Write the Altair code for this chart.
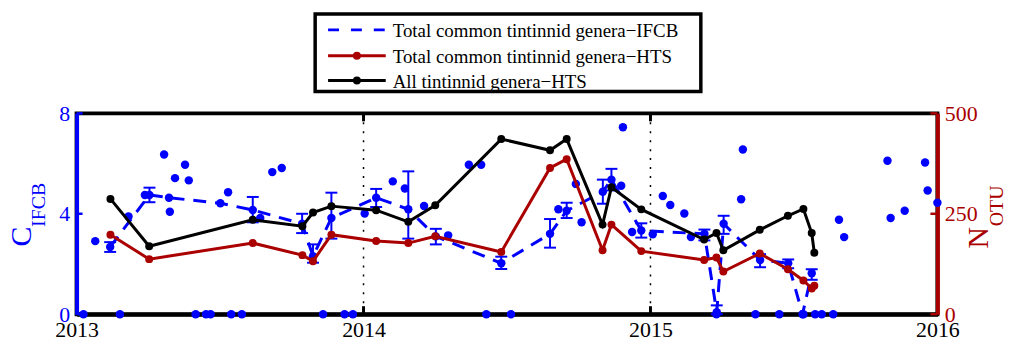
import altair as alt
import pandas as pd

W, H = 866, 202
BLUE = "#0000FF"
RED = "#AA0000"
FONT = "Liberation Serif"

# ---------------- data ----------------
# IFCB individual samples (decimal year, C_IFCB)
sample_year = [2013.024, 2013.065, 2013.151, 2013.181, 2013.238, 2013.305, 2013.325, 2013.343,
               2013.378, 2013.391, 2013.415, 2013.451, 2013.467, 2013.528, 2013.539, 2013.576,
               2013.640, 2013.682, 2013.715, 2013.859, 2013.934, 2013.963, 2014.004, 2014.102,
               2014.144, 2014.211, 2014.295, 2014.367, 2014.410, 2014.428, 2014.514, 2014.679,
               2014.740, 2014.760, 2014.898, 2014.904, 2014.936, 2015.008, 2015.043, 2015.069,
               2015.118, 2015.141, 2015.230, 2015.316, 2015.322, 2015.366, 2015.449, 2015.533,
               2015.574, 2015.597, 2015.637, 2015.657, 2015.675, 2015.826, 2015.837, 2015.886,
               2015.957, 2015.966, 2016.0]
sample_c = [0, 2.91, 0, 3.89, 4.75, 6.36, 4.08, 5.42,
            5.95, 5.33, 0, 0, 0, 4.86, 0, 0,
            3.83, 5.66, 5.82, 0, 0, 0, 4.01, 5.29,
            5.01, 4.31, 3.14, 5.95, 5.95, 0, 0, 4.18,
            5.19, 3.66, 5.12, 7.45, 3.27, 3.18, 4.71, 4.35,
            4.01, 3.07, 0, 4.58, 6.56, 0, 0, 0,
            0, 0, 0, 3.76, 3.07, 6.11, 3.83, 4.12,
            6.04, 4.93, 4.44]

# IFCB means (total common tintinnid genera) with error ranges
mean_year = [2013.117, 2013.254, 2013.322, 2013.501, 2013.614, 2013.786, 2013.824, 2013.888,
             2014.044, 2014.156, 2014.252, 2014.480, 2014.650, 2014.708, 2014.834, 2014.864,
             2014.968, 2015.188, 2015.231, 2015.255, 2015.382, 2015.480, 2015.530, 2015.562]
mean_c = [2.68, 4.75, 4.64, 4.42, 4.15, 3.60, 2.31, 3.83,
          4.64, 4.18, 3.10, 2.03, 3.20, 4.12, 4.88, 5.36,
          3.33, 3.20, 0.08, 3.60, 2.16, 2.03, 0.0, 1.63]
mean_lo = [2.48, 4.46, 4.64, 4.42, 3.66, 3.23, 2.05, 3.01,
           4.27, 3.01, 2.78, 1.80, 2.65, 3.83, 4.40, 4.93,
           3.05, 2.94, 0.0, 3.20, 1.87, 1.83, 0.0, 1.37]
mean_hi = [2.87, 5.04, 4.64, 4.42, 4.67, 4.00, 2.78, 4.84,
           4.99, 5.69, 3.40, 2.29, 3.79, 4.44, 5.36, 5.79,
           3.62, 3.37, 0.35, 3.92, 2.39, 2.18, 0.0, 1.79]

# HTS (N_OTU)
hts_year = [2013.118, 2013.253, 2013.614, 2013.787, 2013.824, 2013.888, 2014.044, 2014.156,
            2014.250, 2014.480, 2014.650, 2014.708, 2014.833, 2014.864, 2014.968, 2015.187,
            2015.230, 2015.254, 2015.381, 2015.479, 2015.533, 2015.562, 2015.571]
common_otu = [198, 137, 177, 147, 132, 198, 182, 177,
              194, 155, 364, 386, 159, 223, 157, 135,
              141, 106, 151, 112, 84, 64, 71]
all_otu = [287, 169, 235, 219, 253, 269, 259, 230,
           271, 436, 408, 436, 223, 316, 261, 186,
           202, 159, 210, 245, 262, 202, 153]

year_ticks = [2013, 2014, 2015, 2016]
grid_years = [2014, 2015]
left_ticks = [0, 4, 8]
right_ticks = [0, 250, 500]

legend_labels = ["Total common tintinnid genera\u2212IFCB",
                 "Total common tintinnid genera\u2212HTS",
                 "All tintinnid genera\u2212HTS"]

# ---------------- frames ----------------
scatter_df = pd.DataFrame({"year": sample_year, "c": sample_c})
mean_df = pd.DataFrame({"year": mean_year, "c": mean_c, "lo": mean_lo, "hi": mean_hi})
hts_df = pd.DataFrame({"year": hts_year, "common": common_otu, "all": all_otu})

x_axis = alt.Axis(values=year_ticks, format="d", title=None, grid=False, ticks=False, tickSize=0,
                  labelPadding=5, labelFont=FONT, labelFontSize=22, labelColor="black",
                  domainColor="black", domainWidth=4, labelFlush=False)
x_scale = alt.Scale(domain=[2013, 2016], nice=False, zero=False)


def X(field):
    return alt.X(field, scale=x_scale, axis=x_axis)


left_axis = alt.Axis(values=left_ticks, orient="left", title=None, grid=False, ticks=False, tickSize=0,
                     labelColor=BLUE, labelFont=FONT, labelFontSize=22, labelPadding=7,
                     domainColor=BLUE, domainWidth=4, labelFlush=False)
left_scale = alt.Scale(domain=[0, 8], nice=False)


def YL(field):
    return alt.Y(field, scale=left_scale, axis=left_axis)


right_axis = alt.Axis(values=right_ticks, orient="right", title=None, grid=False, ticks=False, tickSize=0,
                      labelColor=RED, labelFont=FONT, labelFontSize=22, labelPadding=7,
                      domainColor=RED, domainWidth=4, labelFlush=False)
right_scale = alt.Scale(domain=[0, 500], nice=False)


def YR(field):
    return alt.Y(field, scale=right_scale, axis=right_axis)


# ---------------- left (IFCB) group ----------------
grid = alt.Chart(pd.DataFrame({"year": grid_years})).mark_rule(
    color="black", strokeWidth=1.5, strokeDash=[2, 7]
).encode(x=X("year:Q"), y=alt.value(0), y2=alt.value(H))

scatter = alt.Chart(scatter_df).mark_circle(color=BLUE, size=72, opacity=1).encode(
    x=X("year:Q"), y=YL("c:Q"))

dashed = alt.Chart(mean_df).mark_line(color=BLUE, strokeWidth=3, strokeDash=[13, 9]).encode(
    x=X("year:Q"), y=YL("c:Q"))

err = alt.Chart(mean_df).transform_filter("datum.hi > datum.lo")
bars = err.mark_rule(color=BLUE, strokeWidth=2).encode(x=X("year:Q"), y=YL("lo:Q"), y2="hi:Q")
cap_lo = err.mark_tick(color=BLUE, orient="horizontal", size=12, thickness=2, opacity=1).encode(
    x=X("year:Q"), y=YL("lo:Q"))
cap_hi = err.mark_tick(color=BLUE, orient="horizontal", size=12, thickness=2, opacity=1).encode(
    x=X("year:Q"), y=YL("hi:Q"))

mean_pts = alt.Chart(mean_df).mark_circle(color=BLUE, size=72, opacity=1).encode(
    x=X("year:Q"), y=YL("c:Q"))

lticks = alt.Chart(pd.DataFrame({"v": left_ticks})).mark_rule(color=BLUE, strokeWidth=2.5).encode(
    x=alt.value(0), x2=alt.value(6), y=YL("v:Q"))

left_group = alt.layer(grid, scatter, dashed, bars, cap_lo, cap_hi, mean_pts, lticks)

# ---------------- right (HTS) group ----------------
red_line = alt.Chart(hts_df).mark_line(color=RED, strokeWidth=3).encode(x=X("year:Q"), y=YR("common:Q"))
red_pts = alt.Chart(hts_df).mark_circle(color=RED, size=64, opacity=1).encode(x=X("year:Q"), y=YR("common:Q"))
blk_line = alt.Chart(hts_df).mark_line(color="black", strokeWidth=3).encode(x=X("year:Q"), y=YR("all:Q"))
blk_pts = alt.Chart(hts_df).mark_circle(color="black", size=64, opacity=1).encode(x=X("year:Q"), y=YR("all:Q"))
rticks = alt.Chart(pd.DataFrame({"v": right_ticks})).mark_rule(color=RED, strokeWidth=2.5).encode(
    x=alt.value(W - 7), x2=alt.value(W), y=YR("v:Q"))

right_group = alt.layer(red_line, red_pts, blk_line, blk_pts, rticks)

# ---------------- x inner ticks ----------------
xt_df = pd.DataFrame({"year": grid_years})
xt_bottom = alt.Chart(xt_df).mark_rule(color="black", strokeWidth=3).encode(
    x=X("year:Q"), y=alt.value(H), y2=alt.value(H - 8))
xt_top = alt.Chart(xt_df).mark_rule(color="black", strokeWidth=3).encode(
    x=X("year:Q"), y=alt.value(0), y2=alt.value(8))

# ---------------- axis titles ----------------
def label(txt, x, y, size, color, angle=0, align="center"):
    return alt.Chart(pd.DataFrame({"t": [txt]})).mark_text(
        font=FONT, fontSize=size, color=color, angle=angle, align=align, baseline="middle"
    ).encode(text="t:N", x=alt.value(x), y=alt.value(y))


titles = [
    label("C", -55, 124, 30, BLUE, angle=270),
    label("IFCB", -38, 92, 20, BLUE, angle=270),
    label("N", 908, 125, 30, RED, angle=270),
    label("OTU", 926, 93, 20, RED, angle=270),
]

# ---------------- legend ----------------
legend_box = alt.Chart(pd.DataFrame({"a": [0]})).mark_rect(
    fill="white", stroke="black", strokeWidth=3.5
).encode(x=alt.value(240), x2=alt.value(628), y=alt.value(-100), y2=alt.value(-22))

legend_layers = [legend_box]
leg_colors = [BLUE, RED, "black"]
leg_y = [-84, -58, -33]
for i, (lab, col) in enumerate(zip(legend_labels, leg_colors)):
    one = pd.DataFrame({"t": [lab]})
    kw = {"strokeDash": [11, 12]} if i == 0 else {}
    legend_layers.append(
        alt.Chart(one).mark_rule(color=col, strokeWidth=3, **kw).encode(
            x=alt.value(253), x2=alt.value(311), y=alt.value(leg_y[i])))
    if i > 0:
        legend_layers.append(
            alt.Chart(one).mark_circle(color=col, size=64, opacity=1).encode(
                x=alt.value(282), y=alt.value(leg_y[i])))
    legend_layers.append(
        alt.Chart(one).mark_text(font=FONT, fontSize=19, color="black", align="left", baseline="middle").encode(
            text="t:N", x=alt.value(318), y=alt.value(leg_y[i] + 1)))

chart = alt.layer(
    left_group, right_group, xt_bottom, xt_top, *titles, *legend_layers
).resolve_scale(
    y="independent"
).properties(
    width=W, height=H,
    padding={"left": 69, "top": 105, "right": 68, "bottom": 28},
    autosize=alt.AutoSizeParams(type="none"),
    background="white",
).configure_view(
    stroke="black", strokeWidth=4
)

chart.save("out.html", embed_options={"renderer": "svg", "actions": False})
